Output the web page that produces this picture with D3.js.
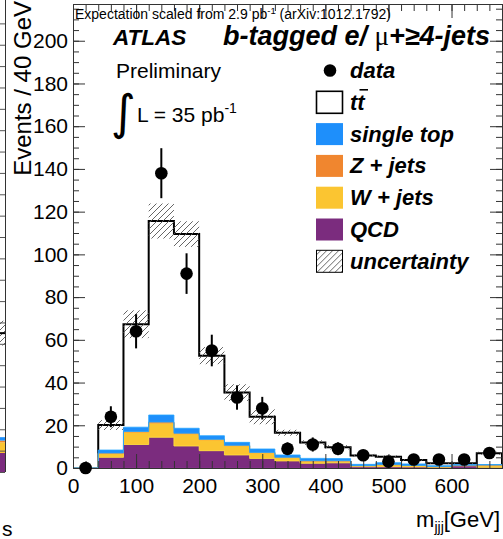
<!DOCTYPE html>
<html>
<head>
<meta charset="utf-8">
<script src="https://cdn.jsdelivr.net/npm/d3@7"></script>
<style>
body { margin: 0; background: #fff; }
svg { display: block; }
text { font-family: "Liberation Sans", Arial, Helvetica, sans-serif; fill: #000; }
</style>
</head>
<body>
<svg id="chart" width="503" height="539"></svg>
<script>
// m_jjj histogram, 40 GeV bins
var binEdges = [0, 40, 80, 120, 160, 200, 240, 280, 320, 360, 400, 440, 480, 520, 560, 600, 640, 680];
var qcd       = [0, 5.0, 11.0, 14.4, 10.3, 8.1, 6.1, 4.5, 3.3, 2.2, 2.4, 0.6, 0.6, 0.5, 0.4, 1.0, 0.3];
var wJets     = [0, 1.7, 5.7, 6.6, 5.6, 5.0, 4.2, 2.5, 1.5, 1.0, 0.8, 0.4, 0.8, 0.6, 0.2, 0.2, 0.8];
var zJets     = [0, 0.3, 0.4, 0.5, 0.4, 0.3, 0.3, 0.3, 0.2, 0.2, 0.2, 0.1, 0.2, 0.1, 0.1, 0.1, 0.3];
var singleTop = [0, 1.4, 2.0, 3.3, 2.3, 1.7, 1.4, 1.6, 1.1, 1.1, 1.0, 0.6, 0.9, 0.7, 0.4, 0.3, 0.2];
var ttbar     = [0, 11.7, 48.2, 90.8, 90.9, 37.5, 23.3, 15.1, 10.4, 7.4, 5.3, 4.2, 2.8, 1.8, 1.1, 0.6, 5.3];
var uncertainty = [0, 2.3, 6.5, 8.2, 6.0, 4.0, 3.9, 3.5, 1.4, 1.1, 1.0, 0.7, 0.6, 0.5, 0.4, 0.4, 0.7];
var dataCounts = [0, 24, 64, 138, 91, 55, 33, 28, 9, 11, 9, 6, 3, 4, 4, 4, 7];
var dataErr    = [0, 4.9, 8.0, 11.7, 9.5, 7.4, 5.7, 5.3, 3.0, 3.3, 3.0, 2.4, 1.7, 2.0, 2.0, 2.0, 2.6];
var xTicks = [0, 100, 200, 300, 400, 500, 600];
var yTicks = [0, 20, 40, 60, 80, 100, 120, 140, 160, 180, 200];

// last bin of the neighbouring panel, cut off at the left edge
var prevStack = [8.9, 5.0, 0.8, 1.6];
var prevTotal = [65];
var prevUnc = [5.8];

var legendLabels = ['data', 'tt', 'single top', 'Z + jets', 'W + jets', 'QCD', 'uncertainty'];
var stackKeys = ['qcd', 'wJets', 'zJets', 'singleTop', 'ttbar'];
var colors = {
    qcd: '#7b2c7e',
    wJets: '#fbc531',
    zJets: '#f0862f',
    singleTop: '#1e8ffb',
    ttbar: '#ffffff'
};

var svg = d3.select('#chart');
var frame = { left: 73, right: 502, top: 4, bottom: 468 };

var x = d3.scaleLinear().domain([0, 680]).range([frame.left, frame.right]);
var y = d3.scaleLinear().domain([0, 217.2]).range([frame.bottom, frame.top]);

var defs = svg.append('defs');
var hatch = defs.append('pattern')
    .attr('id', 'hatch')
    .attr('patternUnits', 'userSpaceOnUse')
    .attr('width', 6).attr('height', 6);
hatch.append('path')
    .attr('d', 'M-1,1 l2,-2 M0,6 l6,-6 M5,7 l2,-2')
    .attr('stroke', '#555')
    .attr('stroke-width', 0.9);

// ---- neighbouring panel sliver
var yPrev = d3.scaleLinear().domain([0, 217.2]).range([472, 8]);
var prevStacked = d3.cumsum(prevStack);
var prevColors = [colors.qcd, colors.wJets, colors.zJets, colors.singleTop];
var sliver = svg.append('g');
sliver.append('rect')
    .attr('x', -10).attr('width', 15)
    .attr('y', yPrev(prevTotal[0])).attr('height', yPrev(0) - yPrev(prevTotal[0]))
    .attr('fill', '#fff');
sliver.selectAll('.prev-band').data(prevTotal).enter().append('rect')
    .attr('x', -10).attr('width', 15)
    .attr('y', function(d, i) { return yPrev(d + prevUnc[i]); })
    .attr('height', function(d, i) { return yPrev(d - prevUnc[i]) - yPrev(d + prevUnc[i]); })
    .attr('fill', 'url(#hatch)');
sliver.selectAll('.prev-line').data(prevTotal).enter().append('line')
    .attr('x1', -10).attr('x2', 5)
    .attr('y1', function(d) { return yPrev(d); })
    .attr('y2', function(d) { return yPrev(d); })
    .attr('stroke', '#000').attr('stroke-width', 2);
sliver.selectAll('.prev-stack').data(prevStack).enter().append('rect')
    .attr('x', -10).attr('width', 15)
    .attr('y', function(d, i) { return yPrev(prevStacked[i]); })
    .attr('height', function(d, i) { return yPrev(prevStacked[i] - d) - yPrev(prevStacked[i]); })
    .attr('fill', function(d, i) { return prevColors[i]; });
sliver.append('g')
    .attr('transform', 'translate(5,0)')
    .call(d3.axisLeft(yPrev).ticks(21).tickSize(5).tickFormat(''))
    .call(function(g) {
        g.select('.domain').remove();
        g.selectAll('line').attr('stroke', '#555');
    });
sliver.append('line')
    .attr('x1', 5.5).attr('x2', 5.5).attr('y1', 0).attr('y2', yPrev(0))
    .attr('stroke', '#333');
svg.append('text')
    .attr('x', 2).attr('y', 536)
    .style('font-size', '21px')
    .text('s');

// ---- stacked histogram
var rows = binEdges.slice(0, -1).map(function(lo, i) {
    return { lo: lo, hi: binEdges[i + 1], qcd: qcd[i], wJets: wJets[i], zJets: zJets[i],
             singleTop: singleTop[i], ttbar: ttbar[i] };
});
var series = d3.stack().keys(stackKeys)(rows);

function stepPoints(s) {
    var pts = s.map(function(d) { return { x: d.data.lo, y0: d[0], y1: d[1] }; });
    var last = s[s.length - 1];
    pts.push({ x: last.data.hi, y0: last[0], y1: last[1] });
    return pts;
}

var area = d3.area()
    .curve(d3.curveStepAfter)
    .x(function(d) { return x(d.x); })
    .y0(function(d) { return y(d.y0); })
    .y1(function(d) { return y(d.y1); });

var plot = svg.append('g');

// ttbar (white) first, then the total outline, then the other layers over it
var ttSeries = series[series.length - 1];
plot.append('path')
    .attr('d', area(stepPoints(ttSeries)))
    .attr('fill', '#fff');

var totals = rows.map(function(r) { return r.qcd + r.wJets + r.zJets + r.singleTop + r.ttbar; });
var outlinePts = rows.map(function(r, i) { return [r.lo, totals[i]]; });
outlinePts.push([rows[rows.length - 1].hi, totals[totals.length - 1]]);
outlinePts.push([rows[rows.length - 1].hi, 0]);
var outline = d3.line()
    .curve(d3.curveStepAfter)
    .x(function(d) { return x(d[0]); })
    .y(function(d) { return y(d[1]); });
plot.append('path')
    .attr('d', outline(outlinePts))
    .attr('fill', 'none')
    .attr('stroke', '#000')
    .attr('stroke-width', 2);

plot.selectAll('.layer')
    .data(series.slice(0, -1))
    .enter().append('path')
    .attr('class', 'layer')
    .attr('d', function(s) { return area(stepPoints(s)); })
    .attr('fill', function(s) { return colors[s.key]; })
    .attr('stroke', function(s) { return d3.color(colors[s.key]).brighter(0.4); })
    .attr('stroke-width', 0.8);

// uncertainty band
plot.selectAll('.band')
    .data(rows.filter(function(r, i) { return uncertainty[i] > 0; }))
    .enter().append('rect')
    .attr('class', 'band')
    .attr('x', function(r) { return x(r.lo); })
    .attr('width', function(r) { return x(r.hi) - x(r.lo); })
    .attr('y', function(r) { var i = binEdges.indexOf(r.lo); return y(totals[i] + uncertainty[i]); })
    .attr('height', function(r) {
        var i = binEdges.indexOf(r.lo);
        return y(totals[i] - uncertainty[i]) - y(totals[i] + uncertainty[i]);
    })
    .attr('fill', 'url(#hatch)');

// ---- axes (ROOT style: ticks inside on all four sides)
function styleAxis(g) {
    g.select('.domain').remove();
    g.selectAll('line').attr('stroke', '#333');
    g.selectAll('text').style('font-size', '21px').attr('fill', '#000');
}

svg.append('g')
    .attr('transform', 'translate(0,' + frame.bottom + ')')
    .call(d3.axisBottom(x).ticks(34).tickSize(-7).tickFormat(''))
    .call(styleAxis);
svg.append('g')
    .attr('transform', 'translate(0,' + frame.bottom + ')')
    .call(d3.axisBottom(x).tickValues(xTicks).tickSize(-14).tickPadding(6).tickFormat(d3.format('d')))
    .call(styleAxis)
    .call(function(g) { g.selectAll('text').attr('dy', '0.9em'); });
svg.append('g')
    .attr('transform', 'translate(0,' + frame.top + ')')
    .call(d3.axisTop(x).ticks(34).tickSize(-7).tickFormat(''))
    .call(styleAxis);
svg.append('g')
    .attr('transform', 'translate(0,' + frame.top + ')')
    .call(d3.axisTop(x).tickValues(xTicks).tickSize(-14).tickFormat(''))
    .call(styleAxis);

svg.append('g')
    .attr('transform', 'translate(' + frame.left + ',0)')
    .call(d3.axisLeft(y).ticks(43).tickSize(-6).tickFormat(''))
    .call(styleAxis);
svg.append('g')
    .attr('transform', 'translate(' + frame.left + ',0)')
    .call(d3.axisLeft(y).tickValues(yTicks).tickSize(-12).tickPadding(5).tickFormat(d3.format('d')))
    .call(styleAxis);
svg.append('g')
    .attr('transform', 'translate(' + frame.right + ',0)')
    .call(d3.axisRight(y).ticks(43).tickSize(-6).tickFormat(''))
    .call(styleAxis);
svg.append('g')
    .attr('transform', 'translate(' + frame.right + ',0)')
    .call(d3.axisRight(y).tickValues(yTicks).tickSize(-12).tickFormat(''))
    .call(styleAxis);

svg.append('rect')
    .attr('x', frame.left + 0.5).attr('y', frame.top + 0.5)
    .attr('width', frame.right - frame.left).attr('height', frame.bottom - frame.top)
    .attr('fill', 'none')
    .attr('stroke', '#333');

// ---- data points
var points = svg.append('g');
var dataRows = rows.map(function(r, i) { return { c: (r.lo + r.hi) / 2, v: dataCounts[i], e: dataErr[i] }; });
points.selectAll('.err')
    .data(dataRows.filter(function(d) { return d.e > 0; }))
    .enter().append('line')
    .attr('x1', function(d) { return x(d.c); })
    .attr('x2', function(d) { return x(d.c); })
    .attr('y1', function(d) { return y(d.v - d.e); })
    .attr('y2', function(d) { return y(d.v + d.e); })
    .attr('stroke', '#000')
    .attr('stroke-width', 2);
points.selectAll('.dot')
    .data(dataRows)
    .enter().append('circle')
    .attr('cx', function(d) { return x(d.c); })
    .attr('cy', function(d) { return y(d.v); })
    .attr('r', 6.3)
    .attr('fill', '#000');

// ---- labels
svg.append('text')
    .attr('transform', 'translate(31,1) rotate(-90)')
    .attr('text-anchor', 'end')
    .style('font-size', '24px')
    .text('Events / 40 GeV');

var xl = svg.append('text')
    .attr('x', 500).attr('y', 527)
    .attr('text-anchor', 'end')
    .style('font-size', '22px');
xl.append('tspan').text('m');
xl.append('tspan').attr('dy', 5).style('font-size', '14px').text('jjj');
xl.append('tspan').attr('dy', -5).text('[GeV]');

var note = svg.append('text')
    .attr('x', 75).attr('y', 19)
    .style('font-size', '14px');
note.append('tspan').text('Expectation scaled from 2.9 pb');
note.append('tspan').attr('dy', -5).style('font-size', '9.5px').text('-1');
note.append('tspan').attr('dy', 5).text(' (arXiv:1012.1792)');

svg.append('text')
    .attr('x', 113).attr('y', 45)
    .style('font-size', '22.5px').style('font-weight', 'bold').style('font-style', 'italic')
    .text('ATLAS');

var chan = svg.append('text')
    .attr('x', 223).attr('y', 45)
    .style('font-size', '27px').style('font-weight', 'bold').style('font-style', 'italic');
chan.append('tspan').text('b-tagged e/ ');
chan.append('tspan').style('font-weight', 'normal').style('font-style', 'normal')
    .style('font-family', '"Liberation Serif", "Times New Roman", serif').text('μ');
chan.append('tspan').text('+≥4-jets');

svg.append('text')
    .attr('x', 116).attr('y', 78)
    .style('font-size', '21px')
    .text('Preliminary');

svg.append('text')
    .attr('x', 111).attr('y', 129)
    .style('font-size', '48px')
    .style('font-family', '"DejaVu Sans", sans-serif')
    .text('∫');

var lumi = svg.append('text')
    .attr('x', 137).attr('y', 122)
    .style('font-size', '21px');
lumi.append('tspan').text('L = 35 pb');
lumi.append('tspan').attr('dy', -9).style('font-size', '14px').text('-1');

// ---- legend
var legendKinds = ['marker', 'ttbar', 'singleTop', 'zJets', 'wJets', 'qcd', 'hatch'];
var legend = svg.append('g');
var rowsL = legend.selectAll('.entry')
    .data(legendLabels)
    .enter().append('g')
    .attr('class', 'entry')
    .attr('transform', function(d, i) { return 'translate(316,' + (70.5 + i * 31.8) + ')'; });

rowsL.each(function(label, i) {
    var g = d3.select(this);
    var kind = legendKinds[i];
    if (kind === 'marker') {
        g.append('circle').attr('cx', 14).attr('cy', 0).attr('r', 6.3).attr('fill', '#000');
    } else if (kind === 'ttbar' || kind === 'hatch') {
        g.append('rect').attr('x', 0.5).attr('y', -11).attr('width', 26).attr('height', 22)
            .attr('fill', kind === 'hatch' ? 'url(#hatch)' : '#fff')
            .attr('stroke', '#000').attr('stroke-width', kind === 'hatch' ? 1 : 1.6);
    } else {
        g.append('rect').attr('x', 0).attr('y', -11).attr('width', 27).attr('height', 22)
            .attr('fill', colors[kind]);
    }
    g.append('text')
        .attr('x', 34).attr('y', 7.5)
        .style('font-size', '22px').style('font-weight', 'bold').style('font-style', 'italic')
        .text(label);
    if (kind === 'ttbar') {
        // bar over the second t
        g.append('line')
            .attr('x1', 43.5).attr('x2', 52).attr('y1', -12.5).attr('y2', -12.5)
            .attr('stroke', '#000').attr('stroke-width', 1.6);
    }
});
</script>
</body>
</html>
